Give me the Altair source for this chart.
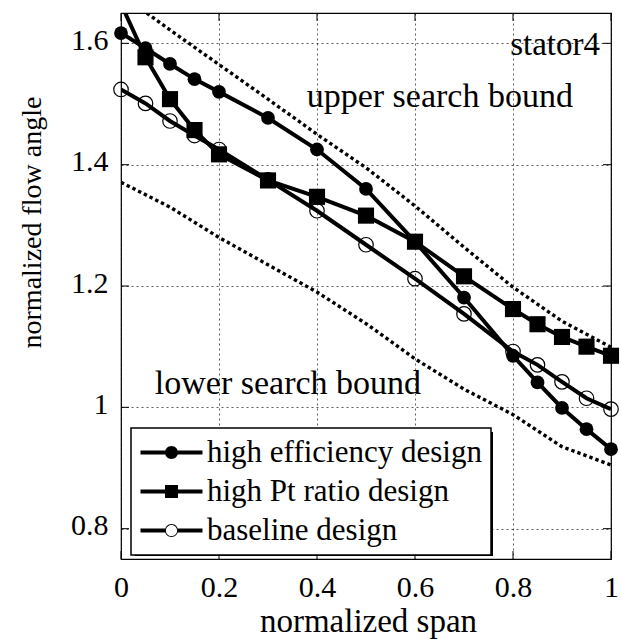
import altair as alt
import pandas as pd

# ---------------- data ----------------
span = [0, 0.05, 0.1, 0.15, 0.2, 0.3, 0.4, 0.5, 0.6, 0.7, 0.8, 0.85, 0.9, 0.95, 1.0]
high_eff = [1.617, 1.592, 1.566, 1.541, 1.520, 1.477, 1.425, 1.360, 1.273, 1.181, 1.085, 1.041, 0.999, 0.964, 0.931]
high_pt = [1.665, 1.577, 1.508, 1.457, 1.417, 1.374, 1.347, 1.316, 1.273, 1.216, 1.162, 1.137, 1.116, 1.100, 1.085]
baseline = [1.524, 1.501, 1.472, 1.448, 1.425, 1.375, 1.324, 1.268, 1.212, 1.154, 1.092, 1.070, 1.042, 1.015, 0.997]

bound_span = [0, 0.1, 0.2, 0.3, 0.4, 0.5, 0.6, 0.7, 0.8, 0.9, 1.0]
upper_bound = [1.681, 1.622, 1.565, 1.508, 1.450, 1.395, 1.332, 1.264, 1.198, 1.142, 1.099]
lower_bound = [1.371, 1.330, 1.280, 1.235, 1.190, 1.138, 1.080, 1.030, 0.988, 0.935, 0.905]

series_names = ["high efficiency design", "high Pt ratio design", "baseline design"]

x_ticks = [0, 0.2, 0.4, 0.6, 0.8, 1.0]
y_ticks = [0.8, 1.0, 1.2, 1.4, 1.6]

ann_text = ["stator4", "upper search bound", "lower search bound"]
ann_x = [1.0, 0.379, 0.069]
ann_y = [1.581, 1.495, 1.022]

# ---------------- tables ----------------
rows = []
for name, vals in zip(series_names, [high_eff, high_pt, baseline]):
    for s, v in zip(span, vals):
        rows.append({"series": name, "span": s, "angle": v})
df = pd.DataFrame(rows)

bdf = pd.DataFrame(
    [{"bound": "upper", "span": s, "angle": v} for s, v in zip(bound_span, upper_bound)]
    + [{"bound": "lower", "span": s, "angle": v} for s, v in zip(bound_span, lower_bound)]
)
xt = pd.DataFrame({"span": x_ticks})
yt = pd.DataFrame({"angle": y_ticks})
ann = pd.DataFrame({"text": ann_text, "span": ann_x, "angle": ann_y})

FONT = "Liberation Serif, Times New Roman, serif"
W, H = 490, 546
XT = "normalized span"
YT = "normalized flow angle"

xs = alt.Scale(domain=[0, 1], nice=False, zero=False)
ys = alt.Scale(domain=[0.75, 1.65], nice=False, zero=False)

X = alt.X("span:Q", scale=xs, title=XT,
          axis=alt.Axis(values=x_ticks, format="~g", labelFlush=False,
                        titleX=W / 2 + 2, titleY=62,
                        titleBaseline="middle", titleAlign="center", titleFontSize=33))
Y = alt.Y("angle:Q", scale=ys, title=YT,
          axis=alt.Axis(values=y_ticks, format="~g", labelFlush=False, labelOffset=-3,
                        titleX=-89, titleY=209,
                        titleAngle=270, titleBaseline="middle", titleAlign="center",
                        titleFontSize=28))

# bounds (dotted)
bounds = alt.Chart(bdf).mark_line(
    color="black", strokeWidth=3.4, strokeDash=[3.4, 3], clip=True
).encode(x=X, y=Y, detail="bound:N")

# series lines
lines = alt.Chart(df).mark_line(color="black", strokeWidth=4, clip=True).encode(
    x=X, y=Y, detail="series:N"
)

inside = alt.datum.angle <= 1.65
p_eff = alt.Chart(df).transform_filter(alt.datum.series == series_names[0]).transform_filter(inside).mark_point(
    shape="circle", filled=True, color="black", size=190, opacity=1
).encode(x=X, y=Y)
p_pt = alt.Chart(df).transform_filter(alt.datum.series == series_names[1]).transform_filter(inside).mark_point(
    shape="square", filled=True, color="black", size=260, opacity=1
).encode(x=X, y=Y)
p_base = alt.Chart(df).transform_filter(alt.datum.series == series_names[2]).transform_filter(inside).mark_point(
    shape="circle", filled=False, color="black", size=210, strokeWidth=1.2, opacity=1
).encode(x=X, y=Y)

# legend symbols: line + marker as custom paths (unit = 15 px, symbol centre at 15 px)
path_eff = ("M-1,-0.133H3.133V0.133H-1Z "
            "M1.5,0A0.433,0.433 0 1,1 0.633,0A0.433,0.433 0 1,1 1.5,0Z")
path_pt = ("M-1,-0.133H3.133V0.133H-1Z "
           "M0.633,-0.433H1.5V0.433H0.633Z")
path_base = ("M-1,-0.133H0.66V0.133H-1Z M1.47,-0.133H3.133V0.133H1.47Z "
             "M1.5,0A0.433,0.433 0 1,1 0.633,0A0.433,0.433 0 1,1 1.5,0Z "
             "M1.44,0A0.373,0.373 0 1,0 0.693,0A0.373,0.373 0 1,0 1.44,0Z")

legend_layer = alt.Chart(df).mark_point(filled=True, color="black", opacity=0).encode(
    x=X, y=Y,
    shape=alt.Shape(
        "series:N",
        scale=alt.Scale(domain=series_names, range=[path_eff, path_pt, path_base]),
        sort=series_names,
        legend=alt.Legend(
            orient="none", legendX=10, legendY=415, title=None,
            symbolSize=900, symbolStrokeWidth=0, symbolOpacity=1,
            symbolFillColor="black",
            labelFont=FONT, labelFontSize=31, labelColor="black", labelOffset=36,
            labelLimit=500, padding=9, rowPadding=7,
            fillColor="white", strokeColor="black",
        ),
    ),
)

# legend shadow
shadow = alt.Chart(alt.Data(values=[{}])).mark_rect(color="black").encode(
    x=alt.value(14), x2=alt.value(372), y=alt.value(419), y2=alt.value(543)
)

# inward ticks on four sides
tick_b = alt.Chart(xt).mark_rule(color="black", strokeWidth=1).encode(x=X, y=alt.value(H), y2=alt.value(H - 8))
tick_t = alt.Chart(xt).mark_rule(color="black", strokeWidth=1).encode(x=X, y=alt.value(0), y2=alt.value(8))
tick_l = alt.Chart(yt).mark_rule(color="black", strokeWidth=1).encode(y=Y, x=alt.value(0), x2=alt.value(8))
tick_r = alt.Chart(yt).mark_rule(color="black", strokeWidth=1).encode(y=Y, x=alt.value(W), x2=alt.value(W - 8))

# annotations
txt_right = alt.Chart(ann).transform_filter(alt.datum.text == "stator4").mark_text(
    font=FONT, fontSize=33, color="black", align="right", baseline="alphabetic", dx=-11
).encode(x=X, y=Y, text="text:N")
txt_left = alt.Chart(ann).transform_filter(alt.datum.text != "stator4").mark_text(
    font=FONT, fontSize=34, color="black", align="left", baseline="alphabetic"
).encode(x=X, y=Y, text="text:N")

chart = alt.layer(
    bounds, tick_b, tick_t, tick_l, tick_r, txt_right, txt_left,
    lines, p_eff, p_pt, p_base, shadow, legend_layer
).properties(
    width=W, height=H,
    autosize=alt.AutoSizeParams(type="none"),
    padding={"left": 121, "top": 13, "right": 10, "bottom": 80},
    background="white",
).configure_view(
    stroke="black", strokeWidth=1.2
).configure_axis(
    grid=True, gridColor="black", gridDash=[2, 3], gridWidth=0.8, gridOpacity=0.8,
    ticks=False, domain=False,
    labelFont=FONT, labelFontSize=30, labelColor="black", labelPadding=13,
    titleFont=FONT, titleColor="black", titleFontWeight="normal",
).configure_legend(
    strokeWidth=1.5
)

chart.save("out.html", embed_options={"renderer": "svg", "actions": False})
